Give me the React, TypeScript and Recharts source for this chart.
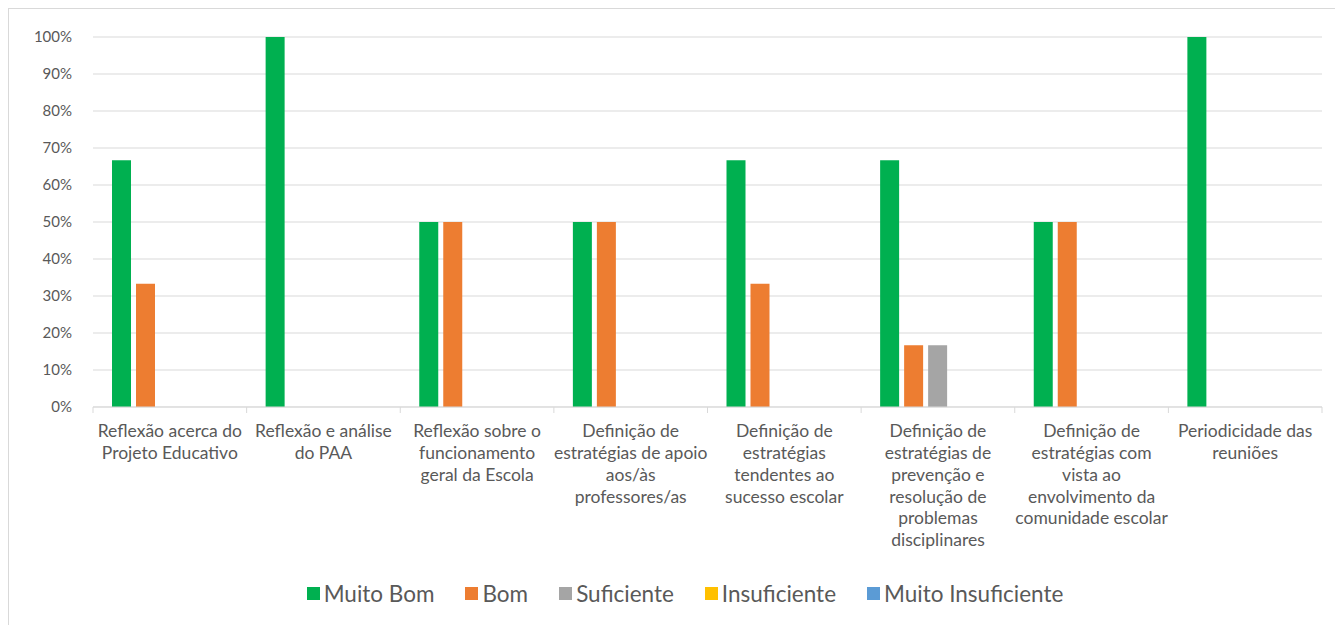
import { BarChart, Bar, XAxis, YAxis, CartesianGrid, Legend } from "recharts";

const categories = [
  "Reflexão acerca do\nProjeto Educativo",
  "Reflexão e análise\ndo PAA",
  "Reflexão sobre o\nfuncionamento\ngeral da Escola",
  "Definição de\nestratégias de apoio\naos/às\nprofessores/as",
  "Definição de\nestratégias\ntendentes ao\nsucesso escolar",
  "Definição de\nestratégias de\nprevenção e\nresolução de\nproblemas\ndisciplinares",
  "Definição de\nestratégias com\nvista ao\nenvolvimento da\ncomunidade escolar",
  "Periodicidade das\nreuniões",
];

const muitoBom = [0.667, 1, 0.5, 0.5, 0.667, 0.667, 0.5, 1];
const bom = [0.333, 0, 0.5, 0.5, 0.333, 0.167, 0.5, 0];
const suficiente = [0, 0, 0, 0, 0, 0.167, 0, 0];
const insuficiente = [0, 0, 0, 0, 0, 0, 0, 0];
const muitoInsuficiente = [0, 0, 0, 0, 0, 0, 0, 0];

const yTicks = [0, 0.1, 0.2, 0.3, 0.4, 0.5, 0.6, 0.7, 0.8, 0.9, 1];

const series = [
  { key: "muitoBom", name: "Muito Bom", color: "#00B050" },
  { key: "bom", name: "Bom", color: "#ED7D31" },
  { key: "suficiente", name: "Suficiente", color: "#A5A5A5" },
  { key: "insuficiente", name: "Insuficiente", color: "#FFC000" },
  { key: "muitoInsuficiente", name: "Muito Insuficiente", color: "#5B9BD5" },
];

const data = categories.map((c, i) => ({
  category: c,
  muitoBom: muitoBom[i],
  bom: bom[i],
  suficiente: suficiente[i],
  insuficiente: insuficiente[i],
  muitoInsuficiente: muitoInsuficiente[i],
}));

const FONT = "Lato, 'Noto Sans', sans-serif";
const TEXT = "#595959";
const GRID = "#d9d9d9";

function CategoryTick(props: any) {
  const { x, y, payload, index } = props;
  const half = payload?.offset ?? 76.8;
  const lines = String(payload.value).split("\n");
  return (
    <g>
      <line x1={x - half} x2={x - half} y1={y} y2={y + 6} stroke={GRID} />
      {index === categories.length - 1 && <line x1={x + half} x2={x + half} y1={y} y2={y + 6} stroke={GRID} />}
      <text x={x} y={y + 24} textAnchor="middle" fill={TEXT} fontSize={17.5} fontFamily={FONT}>
        {lines.map((l, i) => (
          <tspan key={i} x={x} dy={i === 0 ? "0.35em" : 21.8}>
            {l}
          </tspan>
        ))}
      </text>
    </g>
  );
}

function LegendContent() {
  return (
    <div style={{ height: 40, display: "flex", justifyContent: "center", alignItems: "center", gap: 31, fontFamily: FONT, fontSize: 22.5, color: TEXT, paddingLeft: 39 }}>
      {series.map((s) => (
        <div key={s.key} style={{ display: "flex", alignItems: "center" }}>
          <span style={{ width: 13, height: 13, background: s.color, marginRight: 4 }} />
          {s.name}
        </div>
      ))}
    </div>
  );
}

export default function App() {
  return (
    <div style={{ width: 1334, height: 616, borderLeft: `1px solid ${GRID}`, borderTop: `1px solid ${GRID}`, background: "#fff" }}>
      <BarChart width={1334} height={616} data={data} margin={{ top: 28, right: 21, left: 0, bottom: 0 }} barSize={19} barGap={5}>
        <CartesianGrid vertical={false} stroke={GRID} />
        <XAxis
          dataKey="category"
          interval={0}
          height={178}
          axisLine={{ stroke: GRID }}
          tickLine={false}
          tickSize={0}
          tickMargin={0}
          tick={<CategoryTick />}
        />
        <YAxis
          width={84}
          domain={[0, 1]}
          ticks={yTicks}
          axisLine={false}
          tickLine={false}
          tickSize={0}
          tickMargin={21}
          tickFormatter={(v: number) => `${Math.round(v * 100)}%`}
          tick={{ fill: TEXT, fontSize: 15, fontFamily: FONT }}
        />
        <Legend verticalAlign="bottom" wrapperStyle={{ bottom: 12 }} content={<LegendContent />} />
        {series.map((s) => (
          <Bar key={s.key} dataKey={s.key} name={s.name} fill={s.color} isAnimationActive={false} />
        ))}
      </BarChart>
    </div>
  );
}
